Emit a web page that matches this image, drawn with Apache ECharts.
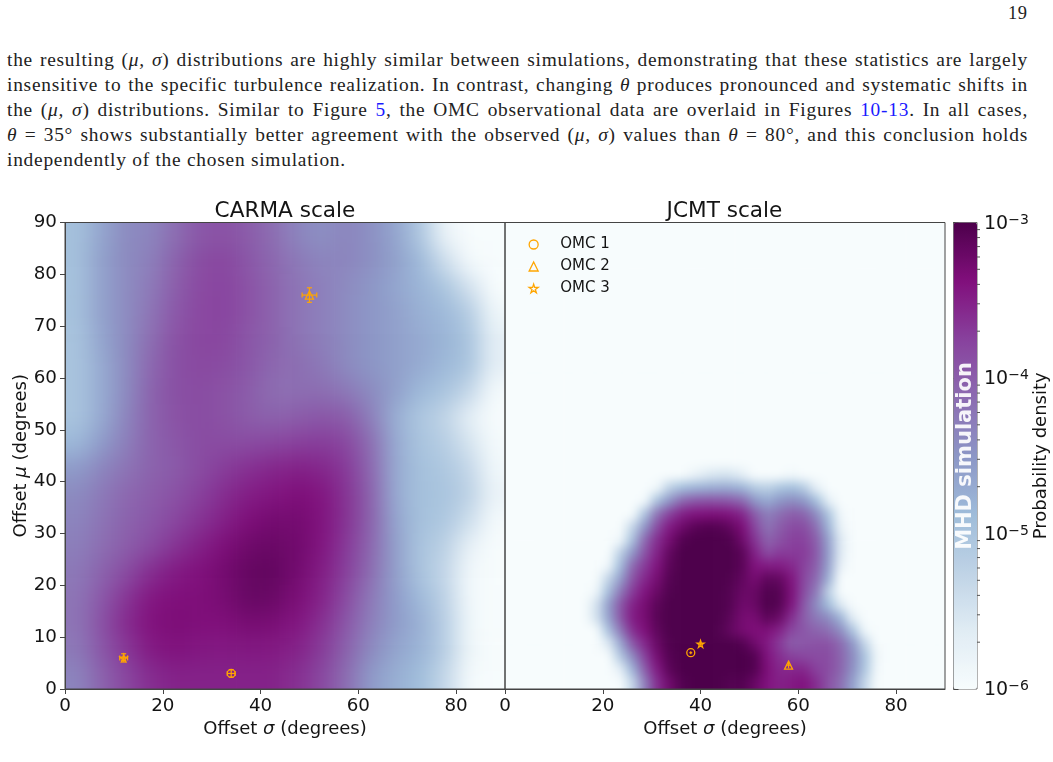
<!DOCTYPE html>
<html>
<head>
<meta charset="utf-8">
<script src="https://cdn.jsdelivr.net/npm/echarts@6/dist/echarts.min.js"></script>
<style>
  html, body { margin: 0; padding: 0; background: #fff; }
  #page { position: relative; width: 1053px; height: 762px; overflow: hidden; }
  .pageno { position: absolute; left: 1008px; top: 3px; font: 18.5px "Liberation Serif", serif; color: #222; letter-spacing: .6px; }
  .para { position: absolute; left: 7px; top: 46.5px; width: 1021px; font: 19.4px/25px "Liberation Serif", serif; color: #222; letter-spacing: .75px; }
  .para div { text-align: justify; text-align-last: justify; white-space: nowrap; height: 25px; }
  .para div.last { text-align-last: left; }
  .para a { color: #1a1aff; text-decoration: none; }
  .clip { position: absolute; top: 222.5px; width: 440px; height: 466.5px; overflow: hidden; background: #f7fcfd; }
  #clipCarma { left: 65px; }
  #clipJcmt { left: 505px; }
  #heatCarma { position: absolute; filter: blur(11px); }
  #heatJcmt { position: absolute; filter: blur(5.5px); }
  #front { position: absolute; left: 0; top: 0; width: 1053px; height: 762px; }
</style>
</head>
<body>
<div id="page">
  <div class="pageno">19</div>
  <div class="para">
    <div>the resulting (<i>μ, σ</i>) distributions are highly similar between simulations, demonstrating that these statistics are largely</div>
    <div>insensitive to the specific turbulence realization. In contrast, changing <i>θ</i> produces pronounced and systematic shifts in</div>
    <div>the (<i>μ, σ</i>) distributions. Similar to Figure <a>5</a>, the OMC observational data are overlaid in Figures <a>10-13</a>. In all cases,</div>
    <div><i>θ</i> = 35° shows substantially better agreement with the observed (<i>μ, σ</i>) values than <i>θ</i> = 80°, and this conclusion holds</div>
    <div class="last">independently of the chosen simulation.</div>
  </div>
  <div id="clipCarma" class="clip"><div id="heatCarma"></div></div>
  <div id="clipJcmt" class="clip"><div id="heatJcmt"></div></div>
  <div id="front"></div>
</div>
<script>
// log10 of the probability density on the CARMA scale: 5 degree cells,
// sigma 2.5 to 87.5 left to right, mu 87.5 down to 2.5.
const carmaLogDensity = [
  [-4.95, -4.65, -4.4, -4.35, -4.15, -3.95, -3.9, -4.0, -4.15, -4.35, -4.45, -4.35, -4.45, -4.65, -5.05, -5.8, -6, -6],
  [-4.95, -4.6, -4.4, -4.3, -4.05, -3.85, -3.8, -3.95, -4.1, -4.25, -4.35, -4.35, -4.45, -4.6, -4.85, -5.4, -5.95, -6],
  [-4.95, -4.6, -4.4, -4.25, -4.0, -3.82, -3.78, -3.9, -4.05, -4.2, -4.3, -4.4, -4.5, -4.65, -4.8, -5.0, -5.45, -6],
  [-4.95, -4.6, -4.4, -4.2, -3.95, -3.8, -3.78, -3.9, -4.05, -4.2, -4.3, -4.4, -4.5, -4.6, -4.75, -4.85, -5.1, -5.85],
  [-5, -4.65, -4.4, -4.15, -3.9, -3.8, -3.8, -3.95, -4.05, -4.2, -4.3, -4.4, -4.5, -4.6, -4.7, -4.8, -5.0, -5.7],
  [-5, -4.7, -4.4, -4.1, -3.88, -3.82, -3.85, -3.95, -4.1, -4.15, -4.25, -4.4, -4.5, -4.6, -4.7, -4.85, -5.0, -5.7],
  [-5, -4.7, -4.4, -4.05, -3.88, -3.85, -3.9, -4.0, -4.15, -4.15, -4.15, -4.25, -4.4, -4.6, -4.85, -5.0, -5.3, -5.95],
  [-5, -4.7, -4.35, -4.05, -3.9, -3.85, -3.9, -4.0, -4.05, -4.0, -3.95, -4.0, -4.3, -4.75, -5.05, -5.25, -5.7, -6],
  [-4.85, -4.55, -4.3, -4.05, -3.95, -3.85, -3.85, -3.85, -3.8, -3.75, -3.72, -3.8, -4.15, -4.7, -5.0, -5.15, -5.5, -5.95],
  [-4.55, -4.35, -4.2, -4.05, -3.98, -3.85, -3.72, -3.62, -3.55, -3.5, -3.55, -3.7, -4.1, -4.7, -4.95, -5.05, -5.3, -5.9],
  [-4.4, -4.25, -4.1, -4, -3.9, -3.75, -3.6, -3.48, -3.42, -3.35, -3.42, -3.65, -4.05, -4.7, -4.95, -5, -5.2, -5.8],
  [-4.35, -4.2, -4.05, -3.95, -3.8, -3.65, -3.5, -3.35, -3.28, -3.28, -3.4, -3.65, -4.05, -4.65, -4.95, -5.05, -5.4, -5.95],
  [-4.3, -4.15, -4, -3.85, -3.65, -3.5, -3.35, -3.24, -3.2, -3.26, -3.42, -3.7, -4.1, -4.6, -5, -5.2, -5.75, -6],
  [-4.25, -4.05, -3.85, -3.6, -3.45, -3.38, -3.28, -3.17, -3.15, -3.28, -3.48, -3.75, -4.15, -4.6, -5, -5.3, -5.9, -6],
  [-4.2, -3.95, -3.65, -3.42, -3.36, -3.35, -3.3, -3.18, -3.2, -3.33, -3.52, -3.85, -4.25, -4.55, -4.85, -5.2, -5.9, -6],
  [-4.2, -3.88, -3.58, -3.38, -3.33, -3.36, -3.36, -3.3, -3.32, -3.42, -3.62, -3.95, -4.3, -4.55, -4.75, -5.15, -5.85, -6],
  [-4.25, -3.95, -3.68, -3.46, -3.4, -3.44, -3.46, -3.44, -3.46, -3.52, -3.72, -4.05, -4.4, -4.65, -4.8, -5.15, -5.85, -6],
  [-4.35, -4.05, -3.8, -3.6, -3.52, -3.52, -3.52, -3.52, -3.52, -3.62, -3.82, -4.15, -4.55, -4.75, -4.9, -5.3, -5.95, -6]
];

// log10 density on the JCMT scale: 2.5 degree cells. Only the occupied block is
// listed, sigma 16.25 to 78.75 left to right, mu 41.25 down to 1.25; the rest
// of the panel sits at the floor of the scale.
const jcmtFloor = -6;
const jcmtFirstCol = 6;
const jcmtFirstRow = 19;
const jcmtLogDensity = [
  [-6, -6, -6, -6, -6, -6, -6, -6, -6, -5.8, -5.6, -5.5, -5.5, -5.7, -6, -6, -6, -5.9, -6, -6, -6, -6, -6, -6, -6, -6],
  [-6, -6, -6, -6, -6, -6, -5.9, -5.2, -4.9, -4.8, -4.75, -4.7, -4.7, -4.8, -5.1, -5.2, -5.0, -4.9, -5.1, -5.7, -6, -6, -6, -6, -6, -6],
  [-6, -6, -6, -6, -6, -5.95, -4.95, -4.5, -4.1, -3.95, -3.9, -3.9, -3.95, -4.1, -4.5, -4.7, -4.5, -4.4, -4.5, -4.9, -5.7, -6, -6, -6, -6, -6],
  [-6, -6, -6, -6, -6, -5.0, -4.2, -3.75, -3.5, -3.4, -3.37, -3.35, -3.4, -3.55, -4.0, -4.3, -4.15, -4.0, -4.05, -4.4, -5.0, -5.9, -6, -6, -6, -6],
  [-6, -6, -6, -6, -5.3, -4.5, -3.85, -3.45, -3.25, -3.1, -3.05, -3.05, -3.15, -3.35, -3.8, -4.2, -4.0, -3.85, -3.85, -4.15, -4.8, -5.8, -6, -6, -6, -6],
  [-6, -6, -6, -5.9, -4.95, -4.1, -3.6, -3.3, -3.05, -3, -3, -3, -3.02, -3.25, -3.65, -4.05, -3.9, -3.75, -3.75, -4.0, -4.6, -5.6, -6, -6, -6, -6],
  [-6, -6, -6, -5.2, -4.5, -3.9, -3.5, -3.15, -3, -3, -3, -3, -3, -3.1, -3.5, -3.85, -3.7, -3.7, -3.7, -3.95, -4.55, -5.6, -6, -6, -6, -6],
  [-6, -6, -5.9, -4.9, -4.1, -3.7, -3.4, -3.1, -3, -3, -3, -3, -3, -3.1, -3.4, -3.45, -3.45, -3.55, -3.75, -4.0, -4.6, -5.75, -6, -6, -6, -6],
  [-6, -6, -5.3, -4.6, -3.9, -3.55, -3.3, -3.05, -3, -3, -3, -3, -3.02, -3.15, -3.3, -3.12, -3.15, -3.4, -3.8, -4.1, -4.75, -6, -6, -6, -6, -6],
  [-6, -5.9, -4.95, -4.25, -3.7, -3.4, -3.2, -3.02, -3, -3, -3, -3, -3.05, -3.2, -3.2, -3.02, -3.05, -3.35, -3.85, -4.25, -5.2, -6, -6, -6, -6, -6],
  [-6, -5.5, -4.6, -3.95, -3.5, -3.3, -3.1, -3, -3, -3, -3, -3, -3.05, -3.25, -3.2, -3, -3.05, -3.4, -3.95, -4.4, -4.9, -5.6, -6, -6, -6, -6],
  [-6, -5.5, -4.65, -3.95, -3.45, -3.3, -3.08, -3, -3, -3, -3, -3, -3.1, -3.3, -3.3, -3.1, -3.2, -3.6, -4.0, -4.25, -4.4, -4.8, -5.7, -6, -6, -6],
  [-6, -6, -5.0, -4.25, -3.6, -3.35, -3.12, -3, -3, -3, -3, -3.02, -3.15, -3.3, -3.35, -3.35, -3.5, -3.8, -3.95, -4.05, -4.15, -4.4, -5.0, -5.9, -6, -6],
  [-6, -6, -5.6, -4.7, -3.95, -3.55, -3.2, -3.02, -3, -3, -3, -3, -3, -3.05, -3.25, -3.45, -3.7, -4.0, -3.95, -3.9, -3.9, -4.1, -4.5, -5.3, -6, -6],
  [-6, -6, -6, -5.1, -4.4, -3.75, -3.3, -3.05, -3, -3, -3, -3, -3, -3, -3.05, -3.4, -3.6, -3.75, -3.8, -3.85, -3.85, -4.05, -4.4, -5.0, -5.9, -6],
  [-6, -6, -6, -5.7, -4.8, -4.0, -3.45, -3.1, -3, -3, -3, -3, -3, -3, -3.05, -3.35, -3.55, -3.55, -3.55, -3.75, -3.85, -4.05, -4.45, -5.05, -5.95, -6],
  [-6, -6, -6, -6, -5.3, -4.3, -3.6, -3.25, -3.05, -3, -3, -3, -3.05, -3.05, -3.2, -3.4, -3.5, -3.45, -3.4, -3.6, -3.9, -4.15, -4.6, -5.3, -6, -6]
];

// Colour ramp of the density scale.
const densityColors = ['#f7fcfd', '#e0ecf4', '#bfd3e6', '#9ebcda', '#8c96c6', '#8c6bb1', '#88419d', '#810f7c', '#4d004b'];

// Observed points: sigma, mu and their uncertainties, one entry per cloud.
const omcNames = ['OMC 1', 'OMC 2', 'OMC 3'];
const carmaSigma = [34, 50, 12];
const carmaMu = [3, 76, 6];
const carmaSigmaErr = [0.8, 1.5, 0.8];
const carmaMuErr = [0.7, 1.4, 0.8];
const jcmtSigma = [38, 58, 40];
const jcmtMu = [7, 4.6, 8.7];
const jcmtSigmaErr = [0.3, 0.5, 0.3];
const jcmtMuErr = [0.3, 0.6, 0.3];

// Tick positions.
const sigmaTicks = [0, 20, 40, 60, 80];
const muTicks = [0, 10, 20, 30, 40, 50, 60, 70, 80, 90];
const colorbarDecades = [-6, -5, -4, -3];
const minorMultipliers = [2, 3, 4, 5, 6, 7, 8, 9];

const FONT = '"DejaVu Sans", sans-serif';
const INK = '#141414';
const SPINE = '#444';
const STAR = 'path://M50 2 L61 37 L98 37 L68 59 L79 95 L50 73 L21 95 L32 59 L2 37 L39 37 Z';
const omcSymbols = ['circle', 'triangle', STAR];
const omcSizes = [8, 8, 7];
const ORANGE = '#ffa500';

// Density layers: the cells are repeated past the panel edges so that the
// softening applied to a layer stays even right up to its frame.
const PANEL_W = 440;
const PANEL_H = 466.5;
const PAD = 3;
const clamp = (v, hi) => Math.max(0, Math.min(hi, v));

function drawDensity(domId, nCols, nRows, valueAt) {
  const cellW = PANEL_W / nCols;
  const cellH = PANEL_H / nRows;
  const dom = document.getElementById(domId);
  dom.style.left = (-PAD * cellW) + 'px';
  dom.style.top = (-PAD * cellH) + 'px';
  dom.style.width = (nCols + 2 * PAD) * cellW + 'px';
  dom.style.height = (nRows + 2 * PAD) * cellH + 'px';
  const data = [];
  for (let r = -PAD; r < nRows + PAD; r++) {
    for (let c = -PAD; c < nCols + PAD; c++) {
      data.push([c + PAD, nRows + PAD - 1 - r, valueAt(clamp(r, nRows - 1), clamp(c, nCols - 1))]);
    }
  }
  const indexAxis = n => ({ type: 'category', show: false, data: Array.from({ length: n }, (_, i) => i) });
  echarts.init(dom, null, { renderer: 'canvas' }).setOption({
    animation: false,
    grid: { left: 0, top: 0, right: 0, bottom: 0, outerBoundsMode: 'none' },
    xAxis: indexAxis(nCols + 2 * PAD),
    yAxis: indexAxis(nRows + 2 * PAD),
    visualMap: { show: false, min: -6, max: -3, dimension: 2, inRange: { color: densityColors } },
    series: [{ type: 'heatmap', data, progressive: 0 }]
  });
}

drawDensity('heatCarma', 18, 18, (r, c) => carmaLogDensity[r][c]);
drawDensity('heatJcmt', 36, 36, (r, c) => {
  const row = jcmtLogDensity[r - jcmtFirstRow];
  const v = row ? row[c - jcmtFirstCol] : undefined;
  return v === undefined ? jcmtFloor : v;
});

// Axes, markers, legend and colour bar are drawn on a clear layer above the densities.
const axisRich = {
  n: { fontFamily: FONT, fontSize: 18, color: INK },
  g: { fontFamily: FONT, fontSize: 18, fontStyle: 'italic', color: INK }
};

function sigmaAxis(gridIndex) {
  return {
    type: 'value', gridIndex, min: 0, max: 90,
    name: '{n|Offset }{g|σ}{n| (degrees)}', nameLocation: 'middle', nameGap: 28, nameTextStyle: { rich: axisRich },
    axisLine: { show: true, lineStyle: { color: SPINE, width: 1 } },
    axisTick: { show: true, length: 5, customValues: sigmaTicks, lineStyle: { color: SPINE } },
    axisLabel: { customValues: sigmaTicks, fontFamily: FONT, fontSize: 18.3, color: INK, margin: 8 },
    splitLine: { show: false }
  };
}

function errorBars(gridIndex, xs, ys, xe, ye) {
  return {
    type: 'custom', xAxisIndex: gridIndex, yAxisIndex: gridIndex, silent: true, z: 5,
    data: xs.map((x, i) => [x, ys[i], xe[i], ye[i]]),
    encode: { x: 0, y: 1 },
    renderItem: (params, api) => {
      const x = api.value(0), y = api.value(1), dx = api.value(2), dy = api.value(3);
      const l = api.coord([x - dx, y]), r = api.coord([x + dx, y]);
      const t = api.coord([x, y + dy]), b = api.coord([x, y - dy]);
      const cap = dx > 0.6 ? 2.5 : 0;
      const seg = (x1, y1, x2, y2) => ({
        type: 'line', shape: { x1, y1, x2, y2 }, style: { stroke: ORANGE, lineWidth: 1.2 }
      });
      return {
        type: 'group',
        children: [
          seg(l[0], l[1], r[0], r[1]), seg(t[0], t[1], b[0], b[1]),
          seg(l[0], l[1] - cap, l[0], l[1] + cap), seg(r[0], r[1] - cap, r[0], r[1] + cap),
          seg(t[0] - cap, t[1], t[0] + cap, t[1]), seg(b[0] - cap, b[1], b[0] + cap, b[1])
        ]
      };
    }
  };
}

function omcSeries(gridIndex, xs, ys) {
  return omcNames.map((name, i) => ({
    type: 'scatter', name, xAxisIndex: gridIndex, yAxisIndex: gridIndex, z: 6,
    data: [[xs[i], ys[i]]],
    symbol: omcSymbols[i], symbolSize: omcSizes[i],
    itemStyle: { color: 'rgba(0,0,0,0)', borderColor: ORANGE, borderWidth: 1.3, opacity: 1 }
  }));
}

const minorExponents = [];
colorbarDecades.slice(0, -1).forEach(e => minorMultipliers.forEach(m => minorExponents.push(e + Math.log10(m))));

const titleStyle = { fontFamily: FONT, fontSize: 21.6, fontWeight: 'normal', color: INK };

const frontChart = echarts.init(document.getElementById('front'), null, { renderer: 'canvas' });
frontChart.setOption({
  animation: false,
  backgroundColor: 'transparent',
  title: [
    { text: 'CARMA scale', left: 280, top: 195.5, textAlign: 'center', textStyle: titleStyle },
    { text: 'JCMT scale', left: 719.5, top: 195.5, textAlign: 'center', textStyle: titleStyle }
  ],
  grid: [
    { left: 65, top: 222.5, width: 440, height: 466.5, outerBoundsMode: 'none', show: true, borderColor: SPINE, borderWidth: 1, backgroundColor: 'transparent' },
    { left: 505, top: 222.5, width: 440, height: 466.5, outerBoundsMode: 'none', show: true, borderColor: SPINE, borderWidth: 1, backgroundColor: 'transparent' },
    { left: 953.5, top: 222.5, width: 23.5, height: 466.5, outerBoundsMode: 'none', show: true, borderColor: '#666', borderWidth: 1, backgroundColor: 'transparent' }
  ],
  xAxis: [
    sigmaAxis(0),
    sigmaAxis(1),
    { type: 'value', gridIndex: 2, min: 0, max: 1, show: false }
  ],
  yAxis: [
    {
      type: 'value', gridIndex: 0, min: 0, max: 90, interval: 10,
      name: '{n|Offset }{g|μ}{n| (degrees)}', nameLocation: 'middle', nameGap: 33, nameRotate: 90,
      nameTextStyle: { rich: axisRich },
      axisLine: { show: true, lineStyle: { color: SPINE } },
      axisTick: { show: true, length: 5, lineStyle: { color: SPINE } },
      axisLabel: { customValues: muTicks, fontFamily: FONT, fontSize: 18.3, color: INK, margin: 8, padding: [3, 0, 0, 0] },
      splitLine: { show: false }
    },
    { type: 'value', gridIndex: 1, min: 0, max: 90, interval: 10, axisLabel: { show: false }, axisTick: { show: false }, axisLine: { show: false }, splitLine: { show: false } },
    {
      type: 'value', gridIndex: 2, position: 'right', min: -6, max: -3, interval: 1,
      name: 'Probability density', nameLocation: 'middle', nameGap: 49, nameRotate: 90,
      nameTextStyle: { fontFamily: FONT, fontSize: 18, color: INK, verticalAlign: 'middle' },
      axisLine: { show: true, lineStyle: { color: '#666' } },
      axisTick: { show: true, length: 5, lineStyle: { color: '#444' } },
      axisLabel: {
        margin: 7, padding: [3, 0, 0, 0], formatter: v => `{a|10}{b|−${Math.abs(v)}}`,
        rich: {
          a: { fontFamily: FONT, fontSize: 19, color: INK },
          b: { fontFamily: FONT, fontSize: 14, color: INK, padding: [0, 0, 8, 0] }
        }
      },
      splitLine: { show: false }
    }
  ],
  legend: {
    orient: 'vertical', left: 523.5, top: 232, itemWidth: 9, itemHeight: 9, itemGap: 7,
    selectedMode: false,
    textStyle: { fontFamily: FONT, fontSize: 15, color: INK, padding: [0, 0, 0, 17] },
    data: omcNames.map((name, i) => ({
      name, icon: omcSymbols[i],
      itemStyle: { color: 'rgba(0,0,0,0)', borderColor: ORANGE, borderWidth: 1.3 }
    }))
  },
  visualMap: {
    type: 'continuous', show: true, min: -6, max: -3, seriesIndex: [], calculable: false, hoverLink: false,
    left: 953.5, top: 222.5, itemWidth: 23.5, itemHeight: 466.5, padding: 0, text: null, showLabel: false,
    inRange: { color: densityColors }
  },
  graphic: [{
    type: 'text', z: 100, x: 966, y: 456, rotation: Math.PI / 2,
    style: { text: 'MHD simulation', fontFamily: FONT, fontSize: 21, fontWeight: 'bold', fill: 'rgba(255,255,255,0.92)', textAlign: 'center', textVerticalAlign: 'middle' }
  }],
  series: [
    errorBars(0, carmaSigma, carmaMu, carmaSigmaErr, carmaMuErr),
    errorBars(1, jcmtSigma, jcmtMu, jcmtSigmaErr, jcmtMuErr),
    ...omcSeries(0, carmaSigma, carmaMu),
    ...omcSeries(1, jcmtSigma, jcmtMu),
    {
      type: 'custom', xAxisIndex: 2, yAxisIndex: 2, silent: true,
      data: minorExponents.map(v => [1, v]),
      encode: { x: 0, y: 1 },
      renderItem: (params, api) => {
        const p = api.coord([1, api.value(1)]);
        return { type: 'line', shape: { x1: p[0], y1: p[1], x2: p[0] + 3, y2: p[1] }, style: { stroke: '#555', lineWidth: 1 } };
      }
    }
  ]
});
</script>
</body>
</html>
